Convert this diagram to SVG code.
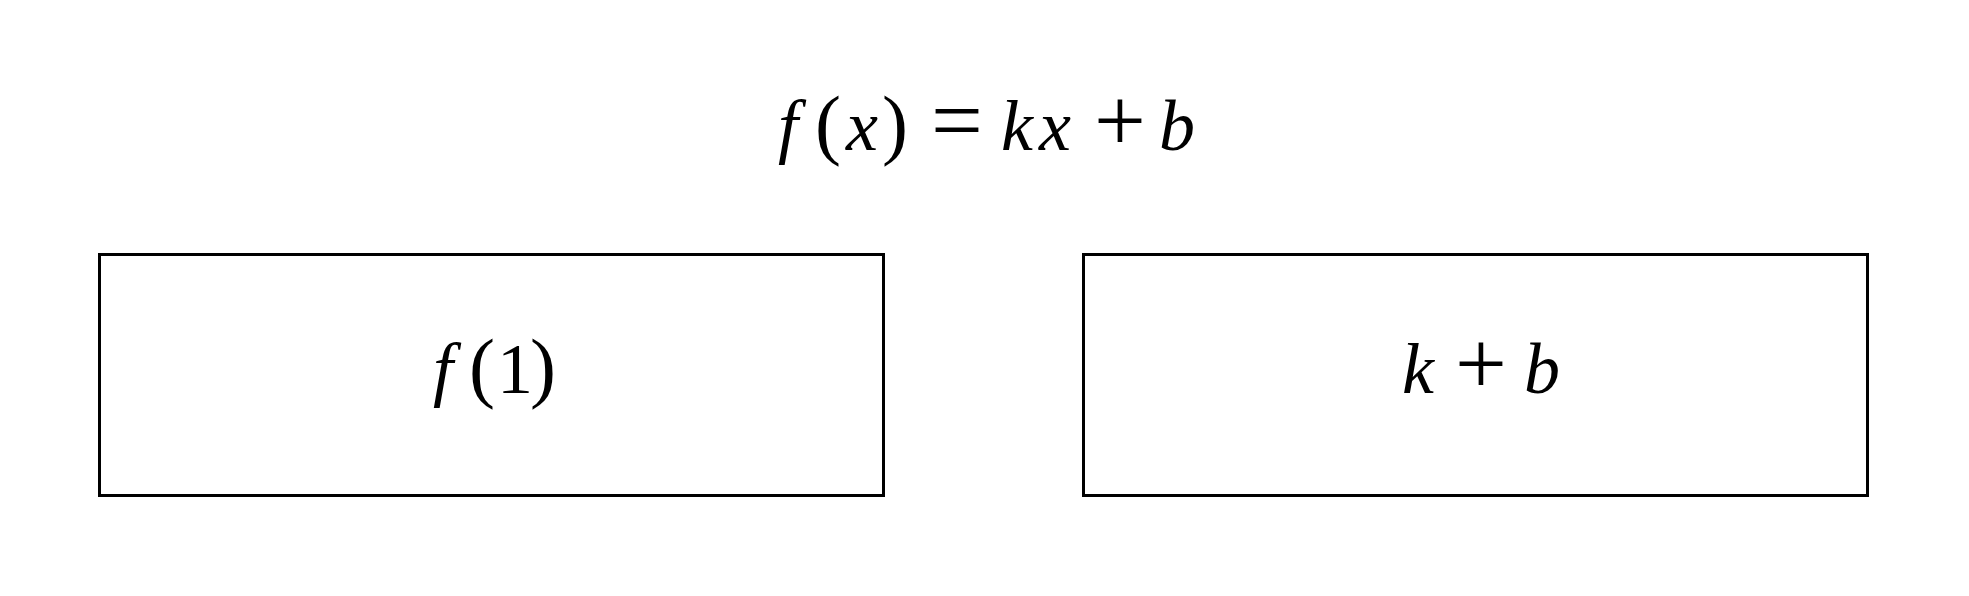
<svg xmlns="http://www.w3.org/2000/svg" width="1969" height="596" viewBox="0 0 1969 596">
<style>
.box{fill:#fff;stroke:#000;stroke-width:3}
.m{font-family:"Liberation Serif","Times New Roman",serif;font-size:72px;fill:#000}
.i{font-style:italic}
.p{font-size:78px}
.o{font-size:92px}
</style>
<rect width="1969" height="596" fill="#fff"/>
<g id="title">
<text class="m" y="150"><tspan class="i" x="778">f</tspan><tspan class="p" x="815">(</tspan><tspan class="i" x="846">x</tspan><tspan class="p" x="882">)</tspan><tspan class="o" x="931" dy="1">=</tspan><tspan class="i" x="1001" dy="-1">k</tspan><tspan class="i" x="1039">x</tspan><tspan class="o" x="1094" dy="1">+</tspan><tspan class="i" x="1159" dy="-1">b</tspan></text>
</g>
<g id="connectors"></g>
<g id="node-f1">
<rect class="box" x="99.5" y="254.5" width="784" height="241"/>
<text class="m" y="393"><tspan class="i" x="433">f</tspan><tspan class="p" x="469">(</tspan><tspan x="497">1</tspan><tspan class="p" x="530">)</tspan></text>
</g>
<g id="node-kb">
<rect class="box" x="1083.5" y="254.5" width="784" height="241"/>
<text class="m" y="393"><tspan class="i" x="1402">k</tspan><tspan class="o" x="1455" dy="1">+</tspan><tspan class="i" x="1524" dy="-1">b</tspan></text>
</g>
</svg>
